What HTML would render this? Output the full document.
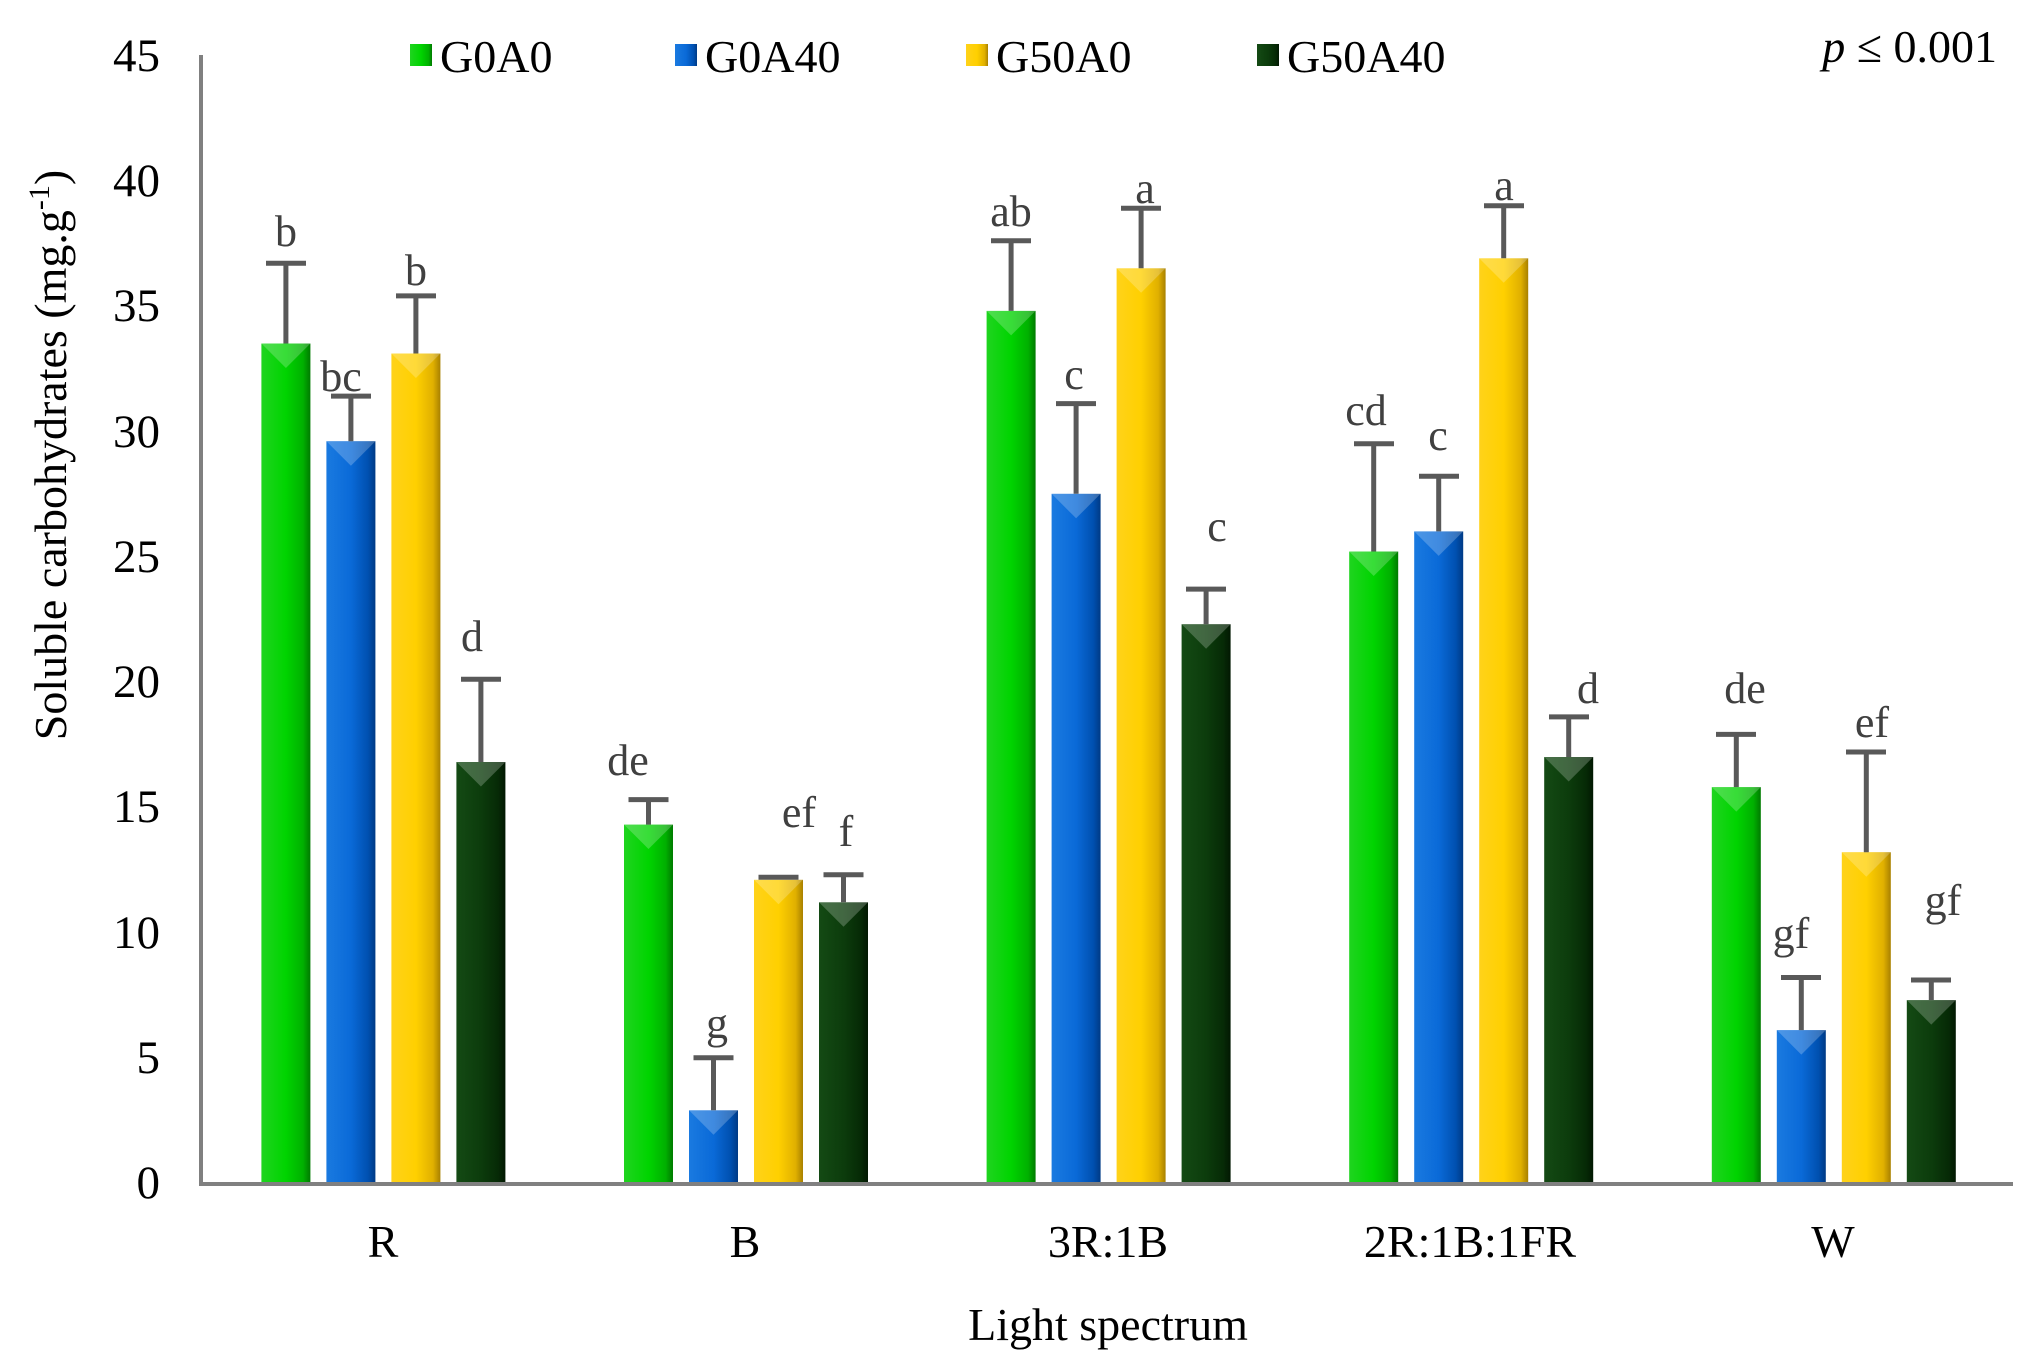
<!DOCTYPE html><html><head><meta charset="utf-8"><style>body{margin:0;background:#fff}svg{display:block}text{font-family:"Liberation Serif",serif}</style></head><body>
<svg width="2038" height="1367" viewBox="0 0 2038 1367" xmlns="http://www.w3.org/2000/svg">
<defs>
<linearGradient id="g" x1="0" x2="1"><stop offset="0" stop-color="#1fd41f"/><stop offset="0.5" stop-color="#00d400"/><stop offset="0.85" stop-color="#00b000"/><stop offset="1" stop-color="#007a00"/></linearGradient>
<linearGradient id="b" x1="0" x2="1"><stop offset="0" stop-color="#1a7ae0"/><stop offset="0.5" stop-color="#0a6ad8"/><stop offset="0.85" stop-color="#0050b0"/><stop offset="1" stop-color="#003a85"/></linearGradient>
<linearGradient id="y" x1="0" x2="1"><stop offset="0" stop-color="#ffd21a"/><stop offset="0.5" stop-color="#ffd000"/><stop offset="0.85" stop-color="#e0b000"/><stop offset="1" stop-color="#a88000"/></linearGradient>
<linearGradient id="d" x1="0" x2="1"><stop offset="0" stop-color="#144a14"/><stop offset="0.5" stop-color="#0c3c0c"/><stop offset="0.85" stop-color="#062a06"/><stop offset="1" stop-color="#021802"/></linearGradient>
</defs>
<g font-size="47" text-anchor="end" fill="#000">
<text x="160" y="71">45</text><text x="160" y="196">40</text><text x="160" y="321">35</text><text x="160" y="447">30</text><text x="160" y="572">25</text><text x="160" y="697">20</text><text x="160" y="822">15</text><text x="160" y="948">10</text><text x="160" y="1073">5</text><text x="160" y="1198">0</text>
</g>
<text transform="translate(66,455) rotate(-90)" font-size="46" text-anchor="middle">Soluble carbohydrates (mg.g<tspan dy="-17" font-size="30">-1</tspan><tspan dy="17">)</tspan></text>
<g>
<rect x="261.4" y="343.5" width="49" height="839.5" fill="url(#g)"/><rect x="326.4" y="441.2" width="49" height="741.8" fill="url(#b)"/><rect x="391.4" y="353.5" width="49" height="829.5" fill="url(#y)"/><rect x="456.4" y="762" width="49" height="421" fill="url(#d)"/>
<rect x="624" y="824.6" width="49" height="358.4" fill="url(#g)"/><rect x="689" y="1110.3" width="49" height="72.7" fill="url(#b)"/><rect x="754" y="879.8" width="49" height="303.2" fill="url(#y)"/><rect x="819" y="902.3" width="49" height="280.7" fill="url(#d)"/>
<rect x="986.6" y="310.9" width="49" height="872.1" fill="url(#g)"/><rect x="1051.6" y="493.8" width="49" height="689.2" fill="url(#b)"/><rect x="1116.6" y="268.3" width="49" height="914.7" fill="url(#y)"/><rect x="1181.6" y="624.2" width="49" height="558.8" fill="url(#d)"/>
<rect x="1349.2" y="551.5" width="49" height="631.5" fill="url(#g)"/><rect x="1414.2" y="531.4" width="49" height="651.6" fill="url(#b)"/><rect x="1479.2" y="258.3" width="49" height="924.7" fill="url(#y)"/><rect x="1544.2" y="757" width="49" height="426" fill="url(#d)"/>
<rect x="1711.8" y="787.1" width="49" height="395.9" fill="url(#g)"/><rect x="1776.8" y="1030.1" width="49" height="152.9" fill="url(#b)"/><rect x="1841.8" y="852.2" width="49" height="330.8" fill="url(#y)"/><rect x="1906.8" y="1000.1" width="49" height="182.9" fill="url(#d)"/>
</g>
<g fill="#fff" opacity="0.22">
<polygon points="261.4,343.5 310.4,343.5 285.9,368"/><polygon points="326.4,441.2 375.4,441.2 350.9,465.7"/><polygon points="391.4,353.5 440.4,353.5 415.9,378"/><polygon points="456.4,762 505.4,762 480.9,786.5"/>
<polygon points="624,824.6 673,824.6 648.5,849"/><polygon points="689,1110.3 738,1110.3 713.5,1134.8"/><polygon points="754,879.8 803,879.8 778.5,904.3"/><polygon points="819,902.3 868,902.3 843.5,926.8"/>
<polygon points="986.6,310.9 1035.6,310.9 1011.1,335.4"/><polygon points="1051.6,493.8 1100.6,493.8 1076.1,518.3"/><polygon points="1116.6,268.3 1165.6,268.3 1141.1,292.8"/><polygon points="1181.6,624.2 1230.6,624.2 1206.1,648.7"/>
<polygon points="1349.2,551.5 1398.2,551.5 1373.7,576"/><polygon points="1414.2,531.4 1463.2,531.4 1438.7,555.9"/><polygon points="1479.2,258.3 1528.2,258.3 1503.7,282.8"/><polygon points="1544.2,757 1593.2,757 1568.7,781.5"/>
<polygon points="1711.8,787.1 1760.8,787.1 1736.3,811.6"/><polygon points="1776.8,1030.1 1825.8,1030.1 1801.3,1054.6"/><polygon points="1841.8,852.2 1890.8,852.2 1866.3,876.7"/><polygon points="1906.8,1000.1 1955.8,1000.1 1931.3,1024.6"/>
</g>
<g stroke="#595959" stroke-width="5" fill="none">
<path d="M285.9 343.5V263.3M266 263.3H306M350.9 441.2V396.1M331 396.1H371M415.9 353.5V295.9M396 295.9H436M480.9 762V679.3M461 679.3H501"/>
<path d="M648.5 824.6V799.6M628.5 799.6H668.5M713.5 1110.3V1057.7M693.5 1057.7H733.5M778.5 879.8V877.3M758.5 877.3H798.5M843.5 902.3V874.8M823.5 874.8H863.5"/>
<path d="M1011.1 310.9V240.7M991 240.7H1031M1076.1 493.8V403.6M1056 403.6H1096M1141.1 268.3V208.2M1121 208.2H1161M1206.1 624.2V589.1M1186 589.1H1226"/>
<path d="M1373.7 551.5V443.7M1354 443.7H1394M1438.7 531.4V476.3M1419 476.3H1459M1503.7 258.3V205.7M1484 205.7H1524M1568.7 757V716.9M1549 716.9H1589"/>
<path d="M1736.3 787.1V734.4M1716 734.4H1756M1801.3 1030.1V977.5M1781 977.5H1821M1866.3 852.2V752M1846 752H1886M1931.3 1000.1V980M1911 980H1951"/>
</g>
<g stroke="#808080" stroke-width="4"><line x1="201" y1="55" x2="201" y2="1185"/><line x1="199" y1="1184" x2="2013" y2="1184"/></g>
<g font-size="44" fill="#404040" text-anchor="middle">
<text x="286" y="246">b</text><text x="341" y="391">bc</text><text x="416" y="285">b</text><text x="472" y="651">d</text>
<text x="628" y="775">de</text><text x="717" y="1038">g</text><text x="799" y="827">ef</text><text x="846" y="846">f</text>
<text x="1011" y="226">ab</text><text x="1074" y="389">c</text><text x="1145" y="203">a</text><text x="1217" y="541">c</text>
<text x="1366" y="425">cd</text><text x="1438" y="450">c</text><text x="1504" y="200">a</text><text x="1588" y="703">d</text>
<text x="1745" y="703">de</text><text x="1791" y="948">gf</text><text x="1872" y="737">ef</text><text x="1943" y="915">gf</text>
</g>
<g font-size="46" text-anchor="middle">
<text x="383" y="1257">R</text><text x="745" y="1257">B</text><text x="1108" y="1257">3R:1B</text><text x="1470" y="1257">2R:1B:1FR</text><text x="1833" y="1257">W</text>
<text x="1108" y="1340">Light spectrum</text>
</g>
<g font-size="46">
<rect x="410" y="44" width="22" height="22" fill="url(#g)"/><text x="440" y="72">G0A0</text>
<rect x="675" y="44" width="22" height="22" fill="url(#b)"/><text x="705" y="72">G0A40</text>
<rect x="966" y="44" width="22" height="22" fill="url(#y)"/><text x="996" y="72">G50A0</text>
<rect x="1257" y="44" width="22" height="22" fill="url(#d)"/><text x="1287" y="72">G50A40</text>
<text x="1997" y="62" text-anchor="end"><tspan font-style="italic">p</tspan> ≤ 0.001</text>
</g>
</svg></body></html>
